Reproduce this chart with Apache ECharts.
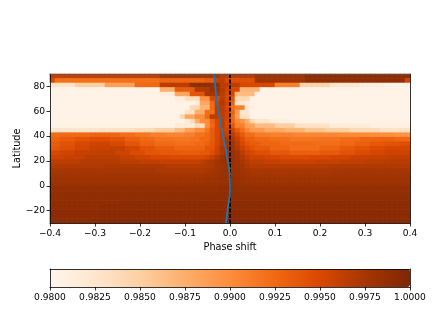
<!DOCTYPE html>
<html><head><meta charset="utf-8">
<style>html,body{margin:0;padding:0;background:#fff}#c{width:436px;height:326px}</style>
<script src="https://cdn.jsdelivr.net/npm/echarts@6/dist/echarts.min.js"></script>
</head><body><div id="c"></div>
<script>
// Cell values, top row (lat 90) first, in 1e-4 above 0.98, as [value,count,...] runs over 72 phase cells
const cellRuns = [
[160,22,175,12,165,2, 165,5,178,10,190,21],
[150,1,120,21,128,9,135,2,160,1,165,1,150,1, 145,5,178,10,190,20,155,1],
[28,5,50,6,85,6,125,5,165,6,188,4,185,2,165,2, 165,2,150,7,110,5,45,6,25,6,12,5,3,5],
[3,22,75,3,135,4,170,3,185,2,170,1,155,1, 150,2,70,4,3,30],
[3,22,12,3,80,3,140,3,175,3,165,1,150,1, 150,1,65,4,3,31],
[3,25,12,2,35,3,95,2,150,2,165,1,150,1, 140,1,40,3,3,32],
[3,29,15,1,80,2,125,1,160,1,170,1,155,1, 130,1,25,2,15,1,3,32],
[3,28,40,2,70,2,125,1,165,2,150,1, 120,1,110,2,12,2,3,31],
[3,27,30,2,75,2,120,2,165,2,155,1, 130,1,90,1,25,2,3,32],
[3,26,40,1,80,2,100,2,125,1,165,3,155,1, 125,1,85,1,30,2,3,32],
[3,27,15,1,35,1,75,1,100,2,130,1,150,1,165,1,150,1, 125,1,105,1,95,1,75,1,40,1,25,3,10,4,3,24],
[5,25,15,4,35,2,100,1,125,1,150,1,165,1,150,1, 140,1,110,2,85,2,65,4,50,4,30,7,15,8,8,8],
[25,10,30,7,38,4,50,4,65,2,85,2,100,2,115,1,135,1,150,1,160,1,155,1, 155,1,135,1,120,1,105,1,90,3,78,4,70,4,58,4,50,5,40,6,30,6],
[122,2,125,6,128,6,122,3,115,3,110,3,106,4,110,2,118,2,125,1,135,1,150,1,165,1,160,1, 165,1,150,1,135,1,122,2,112,3,108,5,105,9,102,6,100,5,95,3],
[128,2,135,3,142,3,146,4,142,3,132,3,125,3,118,4,115,3,118,2,125,2,135,1,150,1,165,1,172,1, 172,1,160,1,145,1,132,2,125,3,120,4,116,6,118,4,122,4,128,4,130,3,126,3],
[134,2,142,3,150,3,155,4,150,3,140,3,130,3,124,4,121,4,124,2,130,1,138,1,150,1,165,1,175,1, 176,1,165,1,150,1,140,1,134,2,128,4,124,7,122,5,126,3,132,3,138,3,142,3,146,2],
[138,2,145,3,152,3,158,4,160,3,152,3,142,3,134,4,128,6,140,2,155,1,172,1,180,1, 178,1,170,1,158,1,148,1,142,1,136,3,128,4,122,6,128,4,136,3,142,3,148,3,152,5],
[150,2,155,3,160,4,162,4,156,3,148,3,140,3,136,4,134,4,138,2,146,1,158,1,170,1,180,1, 182,1,176,1,165,1,155,1,150,1,145,3,138,4,132,6,136,4,142,3,148,3,152,3,156,5],
[156,3,160,4,165,4,165,3,160,3,155,3,150,4,148,4,148,3,152,1,160,1,170,1,180,1,183,1, 184,1,178,1,170,1,162,1,156,3,152,3,148,6,150,4,154,4,158,4,160,4,162,4],
[164,6,168,8,165,4,162,4,160,5,160,3,164,1,168,1,172,1,176,1,182,2, 184,1,180,1,174,1,168,1,163,3,160,3,158,7,160,5,162,5,165,5,166,4],
[170,11,172,12,168,8,170,1,172,1,176,1,180,1,182,1, 184,1,180,1,176,1,172,1,168,16,170,16],
[175,21,172,10,175,1,176,1,178,1,182,1,183,1, 184,1,182,1,178,1,176,1,174,16,175,16],
[178,22,176,9,178,1,180,1,181,1,183,2, 184,1,183,1,181,1,179,1,177,16,178,16],
[181,22,180,9,181,2,182,1,184,2, 185,1,184,1,183,1,181,1,180,16,181,16],
[184,23,183,8,184,3,185,2, 186,1,185,1,184,2,183,16,184,16],
[186,30,187,4,188,2, 188,1,187,3,186,32],
[188,30,189,4,190,2, 190,1,189,3,188,32],
[189,30,190,6, 190,36],
[190,14,192,16,191,6, 191,4,192,32],
[190,10,192,26, 192,36],
[191,10,193,26, 193,36],
[191,10,193,26, 193,36],
[192,10,194,26, 194,36]
];
const curvePhase = [-0.0355,-0.032,-0.029,-0.022,-0.0155,-0.010,-0.0067,-0.001,0,-0.0044,-0.009];
const curveLat   = [90,77,66.6,53,39.3,30.4,23.2,10.3,-3.4,-17,-30];
const zeroPhase  = [0,0];
const zeroLat    = [90,-30];
const latTicks   = [-20,0,20,40,60,80];
const colormap   = ['#fff5eb','#fee6ce','#fdd0a2','#fdae6b','#fd8d3c','#f16913','#d94801','#a63603','#7f2704'];

const cells = [];
cellRuns.forEach((runs, y) => {
  let x = 0;
  for (let k = 0; k < runs.length; k += 2)
    for (let n = 0; n < runs[k + 1]; n++) cells.push([x++, y, 0.98 + runs[k] / 10000]);
});
const idx = n => Array.from({length: n}, (_, i) => i);
const minus = s => String(s).replace('-', '\u2212');
const font = {color: '#000', fontFamily: 'DejaVu Sans', fontSize: 9.1};
const nameFont = {color: '#000', fontFamily: 'DejaVu Sans', fontSize: 9.7};
const tick = {show: true, length: 3.5, lineStyle: {color: '#000', width: 0.8}};
const line = {show: true, onZero: false, lineStyle: {color: '#000', width: 0.8}};
const frame = {type: 'value', show: true, z: 10, axisLine: line, axisTick: {show: false}, axisLabel: {show: false}, splitLine: {show: false}};

const chart = echarts.init(document.getElementById('c'), null, {renderer: 'canvas'});
chart.setOption({
  animation: false,
  backgroundColor: '#fff',
  grid: [
    {left: 50, top: 74, width: 360, height: 149, outerBoundsMode: 'none'},
    {left: 50, top: 269, width: 360, height: 18, outerBoundsMode: 'none'}
  ],
  xAxis: [
    {type: 'value', gridIndex: 0, min: -0.4, max: 0.4, interval: 0.1, z: 10, position: 'bottom',
     axisLine: line, axisTick: tick, splitLine: {show: false},
     axisLabel: Object.assign({}, font, {margin: 6, formatter: v => minus(v.toFixed(1))}),
     name: 'Phase shift', nameLocation: 'middle', nameGap: 19, nameTextStyle: nameFont},
    {type: 'category', gridIndex: 0, show: false, data: idx(72)},
    Object.assign({}, frame, {gridIndex: 0, min: -0.4, max: 0.4, position: 'top',
      axisLine: {show: true, onZero: false, lineStyle: {color: '#555', width: 0.8}}}),
    {type: 'value', gridIndex: 1, min: 0.98, max: 1, interval: 0.0025, z: 10, position: 'bottom',
     axisLine: line, axisTick: tick, splitLine: {show: false},
     axisLabel: Object.assign({}, font, {margin: 6, formatter: v => v.toFixed(4)})},
    Object.assign({}, frame, {gridIndex: 1, min: 0.98, max: 1, position: 'top'})
  ],
  yAxis: [
    {type: 'value', gridIndex: 0, min: -30, max: 90, z: 10, position: 'left',
     axisLine: line, splitLine: {show: false},
     axisTick: Object.assign({}, tick, {customValues: latTicks}),
     axisLabel: Object.assign({}, font, {margin: 5, customValues: latTicks, formatter: v => minus(v)}),
     name: 'Latitude', nameLocation: 'middle', nameGap: 28, nameMoveOverlap: false, nameTextStyle: nameFont},
    {type: 'category', gridIndex: 0, show: false, inverse: true, data: idx(cellRuns.length)},
    Object.assign({}, frame, {gridIndex: 0, min: -30, max: 90, position: 'right'}),
    Object.assign({}, frame, {gridIndex: 1, min: 0, max: 1, position: 'left'}),
    Object.assign({}, frame, {gridIndex: 1, min: 0, max: 1, position: 'right'})
  ],
  visualMap: {
    type: 'continuous', seriesIndex: 0, dimension: 2, min: 0.98, max: 1, orient: 'horizontal',
    left: 50, top: 269, itemWidth: 18, itemHeight: 360, padding: 0,
    calculable: false, hoverLink: false, text: null, showLabel: false,
    inRange: {color: colormap}
  },
  series: [
    {type: 'custom', xAxisIndex: 1, yAxisIndex: 1, data: cells, silent: true, progressive: 0, z: 1,
     encode: {x: 0, y: 1},
     renderItem: (params, api) => {
       const c = api.coord([api.value(0), api.value(1)]);
       const s = api.size([1, 1]);
       return {type: 'rect', silent: true,
         shape: {x: c[0] - s[0] / 2 - 0.3, y: c[1] - s[1] / 2 - 0.3, width: s[0] + 0.6, height: s[1] + 0.6},
         style: {fill: api.visual('color')}};
     }},
    {type: 'line', xAxisIndex: 0, yAxisIndex: 0, data: zeroPhase.map((p, i) => [p, zeroLat[i]]),
     showSymbol: false, silent: true, z: 3, lineStyle: {color: '#000', width: 1.8, type: [4, 1.6]}},
    {type: 'line', xAxisIndex: 0, yAxisIndex: 0, data: curvePhase.map((p, i) => [p, curveLat[i]]),
     smooth: true, showSymbol: false, silent: true, z: 4, lineStyle: {color: '#1f77b4', width: 1.8}},
    {type: 'line', xAxisIndex: 3, yAxisIndex: 3, data: [], silent: true}
  ]
});
</script></body></html>
